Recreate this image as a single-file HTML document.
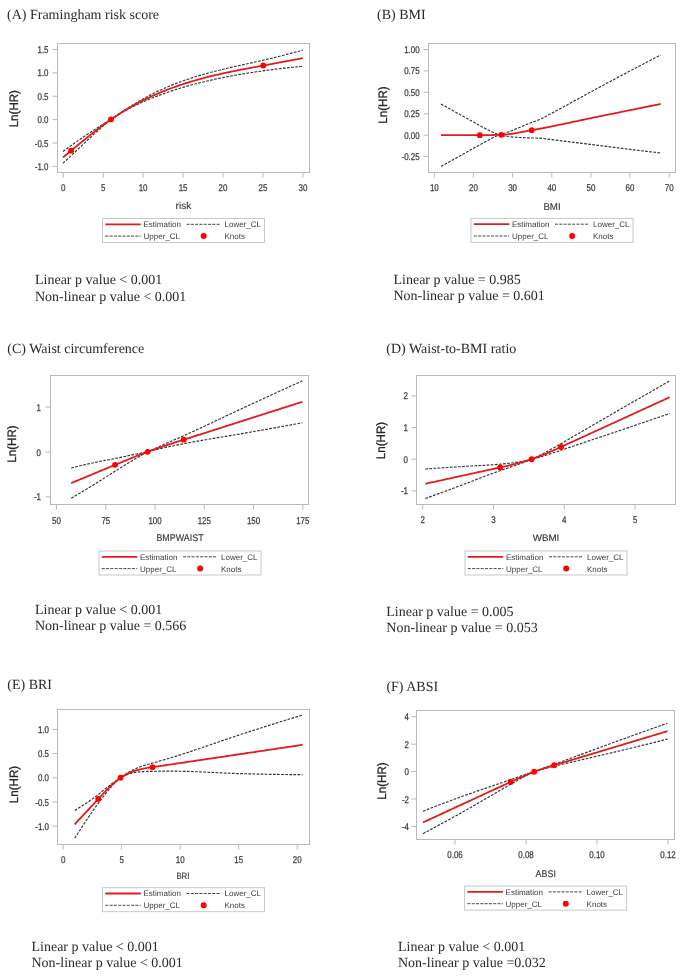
<!DOCTYPE html>
<html><head><meta charset="utf-8"><title>RCS plots</title>
<style>html,body{margin:0;padding:0;background:#fff;}svg{display:block;filter:blur(0.4px);text-rendering:geometricPrecision;}</style>
</head><body>
<svg width="685" height="977" viewBox="0 0 685 977">
<rect width="685" height="977" fill="#fff"/>
<text x="7" y="19.3" font-family="'Liberation Serif', serif" font-size="14" fill="#2a2a2a">(A) Framingham risk score</text>
<line x1="52.5" y1="49.5" x2="57.5" y2="49.5" stroke="#b9b9b9" stroke-width="1"/>
<text transform="translate(48.5,53.0) scale(0.81,1)" font-family="'Liberation Sans', sans-serif" font-size="9.8" fill="#3a3a3a" stroke="#3a3a3a" stroke-width="0.25" text-anchor="end">1.5</text>
<line x1="52.5" y1="72.9" x2="57.5" y2="72.9" stroke="#b9b9b9" stroke-width="1"/>
<text transform="translate(48.5,76.4) scale(0.81,1)" font-family="'Liberation Sans', sans-serif" font-size="9.8" fill="#3a3a3a" stroke="#3a3a3a" stroke-width="0.25" text-anchor="end">1.0</text>
<line x1="52.5" y1="96.2" x2="57.5" y2="96.2" stroke="#b9b9b9" stroke-width="1"/>
<text transform="translate(48.5,99.7) scale(0.81,1)" font-family="'Liberation Sans', sans-serif" font-size="9.8" fill="#3a3a3a" stroke="#3a3a3a" stroke-width="0.25" text-anchor="end">0.5</text>
<line x1="52.5" y1="119.6" x2="57.5" y2="119.6" stroke="#b9b9b9" stroke-width="1"/>
<text transform="translate(48.5,123.1) scale(0.81,1)" font-family="'Liberation Sans', sans-serif" font-size="9.8" fill="#3a3a3a" stroke="#3a3a3a" stroke-width="0.25" text-anchor="end">0.0</text>
<line x1="52.5" y1="143.0" x2="57.5" y2="143.0" stroke="#b9b9b9" stroke-width="1"/>
<text transform="translate(48.5,146.5) scale(0.81,1)" font-family="'Liberation Sans', sans-serif" font-size="9.8" fill="#3a3a3a" stroke="#3a3a3a" stroke-width="0.25" text-anchor="end">-0.5</text>
<line x1="52.5" y1="166.3" x2="57.5" y2="166.3" stroke="#b9b9b9" stroke-width="1"/>
<text transform="translate(48.5,169.8) scale(0.81,1)" font-family="'Liberation Sans', sans-serif" font-size="9.8" fill="#3a3a3a" stroke="#3a3a3a" stroke-width="0.25" text-anchor="end">-1.0</text>
<line x1="63.2" y1="172.5" x2="63.2" y2="177.5" stroke="#b9b9b9" stroke-width="1"/>
<text transform="translate(63.2,190.7) scale(0.81,1)" font-family="'Liberation Sans', sans-serif" font-size="9.8" fill="#3a3a3a" stroke="#3a3a3a" stroke-width="0.25" text-anchor="middle">0</text>
<line x1="103.2" y1="172.5" x2="103.2" y2="177.5" stroke="#b9b9b9" stroke-width="1"/>
<text transform="translate(103.2,190.7) scale(0.81,1)" font-family="'Liberation Sans', sans-serif" font-size="9.8" fill="#3a3a3a" stroke="#3a3a3a" stroke-width="0.25" text-anchor="middle">5</text>
<line x1="143.1" y1="172.5" x2="143.1" y2="177.5" stroke="#b9b9b9" stroke-width="1"/>
<text transform="translate(143.1,190.7) scale(0.81,1)" font-family="'Liberation Sans', sans-serif" font-size="9.8" fill="#3a3a3a" stroke="#3a3a3a" stroke-width="0.25" text-anchor="middle">10</text>
<line x1="183.1" y1="172.5" x2="183.1" y2="177.5" stroke="#b9b9b9" stroke-width="1"/>
<text transform="translate(183.1,190.7) scale(0.81,1)" font-family="'Liberation Sans', sans-serif" font-size="9.8" fill="#3a3a3a" stroke="#3a3a3a" stroke-width="0.25" text-anchor="middle">15</text>
<line x1="223.0" y1="172.5" x2="223.0" y2="177.5" stroke="#b9b9b9" stroke-width="1"/>
<text transform="translate(223.0,190.7) scale(0.81,1)" font-family="'Liberation Sans', sans-serif" font-size="9.8" fill="#3a3a3a" stroke="#3a3a3a" stroke-width="0.25" text-anchor="middle">20</text>
<line x1="262.9" y1="172.5" x2="262.9" y2="177.5" stroke="#b9b9b9" stroke-width="1"/>
<text transform="translate(262.9,190.7) scale(0.81,1)" font-family="'Liberation Sans', sans-serif" font-size="9.8" fill="#3a3a3a" stroke="#3a3a3a" stroke-width="0.25" text-anchor="middle">25</text>
<line x1="302.9" y1="172.5" x2="302.9" y2="177.5" stroke="#b9b9b9" stroke-width="1"/>
<text transform="translate(302.9,190.7) scale(0.81,1)" font-family="'Liberation Sans', sans-serif" font-size="9.8" fill="#3a3a3a" stroke="#3a3a3a" stroke-width="0.25" text-anchor="middle">30</text>
<rect x="57.5" y="43.5" width="252.0" height="129.0" fill="none" stroke="#b9b9b9" stroke-width="1"/>
<text transform="translate(183.4,209.3) scale(1.0,1)" font-family="'Liberation Sans', sans-serif" font-size="10" fill="#3a3a3a" stroke="#3a3a3a" stroke-width="0.15" text-anchor="middle">risk</text>
<text transform="translate(18.45,108.7) rotate(-90) scale(0.95,1)" x="0" y="0" font-family="'Liberation Sans', sans-serif" font-size="12.2" fill="#262626" stroke="#262626" stroke-width="0.3" text-anchor="middle">Ln(HR)</text>
<path d="M63.00,151.46 L65.02,149.99 L67.03,148.53 L69.05,147.08 L71.06,145.63 L73.08,144.20 L75.09,142.77 L77.11,141.35 L79.12,139.94 L81.14,138.55 L83.15,137.18 L85.17,135.83 L87.18,134.48 L89.20,133.14 L91.21,131.81 L93.23,130.49 L95.24,129.19 L97.26,127.90 L99.27,126.61 L101.29,125.34 L103.30,124.09 L105.32,122.85 L107.33,121.63 L109.35,120.43 L111.00,119.46 L111.36,119.19 L113.38,117.72 L115.39,116.28 L117.41,114.87 L119.42,113.48 L121.44,112.12 L123.45,110.79 L125.47,109.49 L127.48,108.21 L129.50,106.96 L131.51,105.73 L133.53,104.52 L135.54,103.32 L137.56,102.13 L139.57,100.96 L141.59,99.80 L143.61,98.66 L145.62,97.54 L147.64,96.45 L149.65,95.38 L151.67,94.34 L153.68,93.32 L155.70,92.32 L157.71,91.35 L159.73,90.39 L161.74,89.46 L163.76,88.55 L165.77,87.67 L167.79,86.81 L169.80,85.97 L171.82,85.14 L173.83,84.34 L175.85,83.55 L177.86,82.78 L179.88,82.03 L181.89,81.29 L183.91,80.57 L185.92,79.86 L187.94,79.17 L189.95,78.50 L191.97,77.84 L193.98,77.20 L196.00,76.56 L198.01,75.95 L200.03,75.34 L202.04,74.75 L204.06,74.17 L206.07,73.61 L208.09,73.05 L210.10,72.51 L212.12,71.98 L214.13,71.46 L216.15,70.95 L218.16,70.45 L220.18,69.95 L222.19,69.47 L224.21,68.99 L226.23,68.52 L228.24,68.05 L230.26,67.59 L232.27,67.13 L234.29,66.67 L236.30,66.22 L238.32,65.77 L240.33,65.32 L242.35,64.87 L244.36,64.42 L246.38,63.98 L248.39,63.53 L250.41,63.08 L252.42,62.64 L254.44,62.19 L256.45,61.73 L258.47,61.28 L260.48,60.82 L262.50,60.36 L264.51,59.90 L266.53,59.43 L268.54,58.95 L270.56,58.47 L272.57,57.98 L274.59,57.49 L276.60,56.99 L278.62,56.49 L280.63,55.98 L282.65,55.47 L284.66,54.95 L286.68,54.43 L288.69,53.90 L290.71,53.37 L292.72,52.83 L294.74,52.29 L296.75,51.75 L298.77,51.20 L300.78,50.64 L302.80,50.09" fill="none" stroke="#333" stroke-width="1.15" stroke-dasharray="2.7,1.4"/>
<path d="M63.00,163.26 L65.02,161.40 L67.03,159.53 L69.05,157.65 L71.06,155.76 L73.08,153.87 L75.09,151.97 L77.11,150.07 L79.12,148.16 L81.14,146.25 L83.15,144.32 L85.17,142.41 L87.18,140.50 L89.20,138.61 L91.21,136.73 L93.23,134.87 L95.24,133.02 L97.26,131.20 L99.27,129.40 L101.29,127.62 L103.30,125.88 L105.32,124.16 L107.33,122.46 L109.35,120.80 L111.00,119.46 L111.36,119.23 L113.38,117.94 L115.39,116.67 L117.41,115.44 L119.42,114.22 L121.44,113.03 L123.45,111.87 L125.47,110.72 L127.48,109.60 L129.50,108.50 L131.51,107.43 L133.53,106.39 L135.54,105.37 L137.56,104.40 L139.57,103.45 L141.59,102.54 L143.61,101.65 L145.62,100.78 L147.64,99.92 L149.65,99.08 L151.67,98.25 L153.68,97.44 L155.70,96.66 L157.71,95.89 L159.73,95.13 L161.74,94.38 L163.76,93.65 L165.77,92.93 L167.79,92.23 L169.80,91.53 L171.82,90.86 L173.83,90.20 L175.85,89.55 L177.86,88.91 L179.88,88.29 L181.89,87.68 L183.91,87.09 L185.92,86.50 L187.94,85.93 L189.95,85.37 L191.97,84.82 L193.98,84.29 L196.00,83.76 L198.01,83.25 L200.03,82.74 L202.04,82.25 L204.06,81.76 L206.07,81.28 L208.09,80.81 L210.10,80.34 L212.12,79.89 L214.13,79.44 L216.15,79.00 L218.16,78.57 L220.18,78.15 L222.19,77.73 L224.21,77.32 L226.23,76.92 L228.24,76.53 L230.26,76.14 L232.27,75.77 L234.29,75.40 L236.30,75.04 L238.32,74.68 L240.33,74.34 L242.35,74.00 L244.36,73.66 L246.38,73.34 L248.39,73.01 L250.41,72.70 L252.42,72.39 L254.44,72.08 L256.45,71.79 L258.47,71.49 L260.48,71.20 L262.50,70.92 L264.51,70.64 L266.53,70.36 L268.54,70.09 L270.56,69.83 L272.57,69.57 L274.59,69.32 L276.60,69.07 L278.62,68.83 L280.63,68.59 L282.65,68.36 L284.66,68.13 L286.68,67.91 L288.69,67.69 L290.71,67.48 L292.72,67.27 L294.74,67.06 L296.75,66.86 L298.77,66.67 L300.78,66.47 L302.80,66.29" fill="none" stroke="#333" stroke-width="1.15" stroke-dasharray="2.7,1.4"/>
<path d="M63.00,157.36 L65.02,155.69 L67.03,154.03 L69.05,152.36 L71.06,150.70 L73.08,149.03 L75.09,147.37 L77.11,145.71 L79.12,144.05 L81.14,142.40 L83.15,140.75 L85.17,139.12 L87.18,137.49 L89.20,135.87 L91.21,134.27 L93.23,132.68 L95.24,131.11 L97.26,129.55 L99.27,128.01 L101.29,126.48 L103.30,124.98 L105.32,123.50 L107.33,122.05 L109.35,120.62 L111.00,119.46 L111.36,119.21 L113.38,117.83 L115.39,116.48 L117.41,115.15 L119.42,113.85 L121.44,112.58 L123.45,111.33 L125.47,110.11 L127.48,108.91 L129.50,107.73 L131.51,106.58 L133.53,105.45 L135.54,104.35 L137.56,103.27 L139.57,102.21 L141.59,101.17 L143.61,100.15 L145.62,99.16 L147.64,98.18 L149.65,97.23 L151.67,96.30 L153.68,95.38 L155.70,94.49 L157.71,93.62 L159.73,92.76 L161.74,91.92 L163.76,91.10 L165.77,90.30 L167.79,89.52 L169.80,88.75 L171.82,88.00 L173.83,87.27 L175.85,86.55 L177.86,85.85 L179.88,85.16 L181.89,84.49 L183.91,83.83 L185.92,83.18 L187.94,82.55 L189.95,81.94 L191.97,81.33 L193.98,80.74 L196.00,80.16 L198.01,79.60 L200.03,79.04 L202.04,78.50 L204.06,77.96 L206.07,77.44 L208.09,76.93 L210.10,76.43 L212.12,75.93 L214.13,75.45 L216.15,74.98 L218.16,74.51 L220.18,74.05 L222.19,73.60 L224.21,73.16 L226.23,72.72 L228.24,72.29 L230.26,71.86 L232.27,71.45 L234.29,71.03 L236.30,70.63 L238.32,70.22 L240.33,69.83 L242.35,69.43 L244.36,69.04 L246.38,68.66 L248.39,68.27 L250.41,67.89 L252.42,67.51 L254.44,67.14 L256.45,66.76 L258.47,66.39 L260.48,66.01 L262.50,65.64 L264.51,65.27 L266.53,64.89 L268.54,64.52 L270.56,64.15 L272.57,63.78 L274.59,63.40 L276.60,63.03 L278.62,62.66 L280.63,62.29 L282.65,61.91 L284.66,61.54 L286.68,61.17 L288.69,60.80 L290.71,60.42 L292.72,60.05 L294.74,59.68 L296.75,59.30 L298.77,58.93 L300.78,58.56 L302.80,58.19" fill="none" stroke="#e31b1b" stroke-width="1.8" stroke-linejoin="round"/>
<circle cx="71.1" cy="150.66490754397316" r="2.9" fill="#ff0000"/>
<circle cx="111.0" cy="119.46076144730385" r="2.9" fill="#ff0000"/>
<circle cx="263.3" cy="65.49106892760948" r="2.9" fill="#ff0000"/>
<rect x="102.5" y="218.5" width="162" height="24" fill="none" stroke="#c8c8c8" stroke-width="1"/>
<line x1="105.3" y1="224.3" x2="140.8" y2="224.3" stroke="#e31b1b" stroke-width="1.8"/>
<line x1="186.5" y1="224.3" x2="220.5" y2="224.3" stroke="#333" stroke-width="0.9" stroke-dasharray="3,1.3"/>
<line x1="105.3" y1="236.1" x2="140.8" y2="236.1" stroke="#333" stroke-width="0.9" stroke-dasharray="3,1.3"/>
<circle cx="203.7" cy="236.1" r="3" fill="#ff0000"/>
<text x="143.5" y="227.2" font-family="'Liberation Sans', sans-serif" font-size="8" fill="#3a3a3a">Estimation</text>
<text x="224.5" y="227.2" font-family="'Liberation Sans', sans-serif" font-size="8" fill="#3a3a3a">Lower_CL</text>
<text x="143.5" y="239.0" font-family="'Liberation Sans', sans-serif" font-size="8" fill="#3a3a3a">Upper_CL</text>
<text x="224.5" y="239.0" font-family="'Liberation Sans', sans-serif" font-size="8" fill="#3a3a3a">Knots</text>
<text x="35" y="284" font-family="'Liberation Serif', serif" font-size="14" fill="#2a2a2a">Linear p value &lt; 0.001</text>
<text x="35" y="300.5" font-family="'Liberation Serif', serif" font-size="14" fill="#2a2a2a">Non-linear p value &lt; 0.001</text>
<text x="377" y="19.2" font-family="'Liberation Serif', serif" font-size="14" fill="#2a2a2a">(B) BMI</text>
<line x1="423.5" y1="49.5" x2="428.5" y2="49.5" stroke="#b9b9b9" stroke-width="1"/>
<text transform="translate(419.6,53.0) scale(0.81,1)" font-family="'Liberation Sans', sans-serif" font-size="9.8" fill="#3a3a3a" stroke="#3a3a3a" stroke-width="0.25" text-anchor="end">1.00</text>
<line x1="423.5" y1="70.9" x2="428.5" y2="70.9" stroke="#b9b9b9" stroke-width="1"/>
<text transform="translate(419.6,74.4) scale(0.81,1)" font-family="'Liberation Sans', sans-serif" font-size="9.8" fill="#3a3a3a" stroke="#3a3a3a" stroke-width="0.25" text-anchor="end">0.75</text>
<line x1="423.5" y1="92.3" x2="428.5" y2="92.3" stroke="#b9b9b9" stroke-width="1"/>
<text transform="translate(419.6,95.8) scale(0.81,1)" font-family="'Liberation Sans', sans-serif" font-size="9.8" fill="#3a3a3a" stroke="#3a3a3a" stroke-width="0.25" text-anchor="end">0.50</text>
<line x1="423.5" y1="113.8" x2="428.5" y2="113.8" stroke="#b9b9b9" stroke-width="1"/>
<text transform="translate(419.6,117.3) scale(0.81,1)" font-family="'Liberation Sans', sans-serif" font-size="9.8" fill="#3a3a3a" stroke="#3a3a3a" stroke-width="0.25" text-anchor="end">0.25</text>
<line x1="423.5" y1="135.2" x2="428.5" y2="135.2" stroke="#b9b9b9" stroke-width="1"/>
<text transform="translate(419.6,138.7) scale(0.81,1)" font-family="'Liberation Sans', sans-serif" font-size="9.8" fill="#3a3a3a" stroke="#3a3a3a" stroke-width="0.25" text-anchor="end">0.00</text>
<line x1="423.5" y1="156.6" x2="428.5" y2="156.6" stroke="#b9b9b9" stroke-width="1"/>
<text transform="translate(419.6,160.1) scale(0.81,1)" font-family="'Liberation Sans', sans-serif" font-size="9.8" fill="#3a3a3a" stroke="#3a3a3a" stroke-width="0.25" text-anchor="end">-0.25</text>
<line x1="434.3" y1="172.5" x2="434.3" y2="177.5" stroke="#b9b9b9" stroke-width="1"/>
<text transform="translate(434.3,190.7) scale(0.81,1)" font-family="'Liberation Sans', sans-serif" font-size="9.8" fill="#3a3a3a" stroke="#3a3a3a" stroke-width="0.25" text-anchor="middle">10</text>
<line x1="473.4" y1="172.5" x2="473.4" y2="177.5" stroke="#b9b9b9" stroke-width="1"/>
<text transform="translate(473.4,190.7) scale(0.81,1)" font-family="'Liberation Sans', sans-serif" font-size="9.8" fill="#3a3a3a" stroke="#3a3a3a" stroke-width="0.25" text-anchor="middle">20</text>
<line x1="512.6" y1="172.5" x2="512.6" y2="177.5" stroke="#b9b9b9" stroke-width="1"/>
<text transform="translate(512.6,190.7) scale(0.81,1)" font-family="'Liberation Sans', sans-serif" font-size="9.8" fill="#3a3a3a" stroke="#3a3a3a" stroke-width="0.25" text-anchor="middle">30</text>
<line x1="551.8" y1="172.5" x2="551.8" y2="177.5" stroke="#b9b9b9" stroke-width="1"/>
<text transform="translate(551.8,190.7) scale(0.81,1)" font-family="'Liberation Sans', sans-serif" font-size="9.8" fill="#3a3a3a" stroke="#3a3a3a" stroke-width="0.25" text-anchor="middle">40</text>
<line x1="590.9" y1="172.5" x2="590.9" y2="177.5" stroke="#b9b9b9" stroke-width="1"/>
<text transform="translate(590.9,190.7) scale(0.81,1)" font-family="'Liberation Sans', sans-serif" font-size="9.8" fill="#3a3a3a" stroke="#3a3a3a" stroke-width="0.25" text-anchor="middle">50</text>
<line x1="630.0" y1="172.5" x2="630.0" y2="177.5" stroke="#b9b9b9" stroke-width="1"/>
<text transform="translate(630.0,190.7) scale(0.81,1)" font-family="'Liberation Sans', sans-serif" font-size="9.8" fill="#3a3a3a" stroke="#3a3a3a" stroke-width="0.25" text-anchor="middle">60</text>
<line x1="669.2" y1="172.5" x2="669.2" y2="177.5" stroke="#b9b9b9" stroke-width="1"/>
<text transform="translate(669.2,190.7) scale(0.81,1)" font-family="'Liberation Sans', sans-serif" font-size="9.8" fill="#3a3a3a" stroke="#3a3a3a" stroke-width="0.25" text-anchor="middle">70</text>
<rect x="428.5" y="43.5" width="247.0" height="129.0" fill="none" stroke="#b9b9b9" stroke-width="1"/>
<text transform="translate(552,209.5) scale(0.97,1)" font-family="'Liberation Sans', sans-serif" font-size="10" fill="#3a3a3a" stroke="#3a3a3a" stroke-width="0.15" text-anchor="middle">BMI</text>
<text transform="translate(387.2,105) rotate(-90) scale(0.95,1)" x="0" y="0" font-family="'Liberation Sans', sans-serif" font-size="12.2" fill="#262626" stroke="#262626" stroke-width="0.3" text-anchor="middle">Ln(HR)</text>
<path d="M441.00,104.00 L443.02,105.13 L445.03,106.26 L447.05,107.39 L449.06,108.51 L451.08,109.63 L453.09,110.75 L455.11,111.87 L457.12,112.99 L459.14,114.11 L461.16,115.22 L463.17,116.34 L465.19,117.45 L467.20,118.56 L469.22,119.67 L471.23,120.78 L473.25,121.90 L475.27,123.03 L477.28,124.16 L479.30,125.29 L481.31,126.40 L483.33,127.50 L485.34,128.56 L487.36,129.60 L489.37,130.59 L491.39,131.55 L493.41,132.47 L495.42,133.36 L497.44,134.22 L499.00,134.87 L499.45,134.74 L501.47,134.17 L503.48,133.57 L505.50,132.92 L507.51,132.22 L509.53,131.49 L511.55,130.72 L513.56,129.92 L515.58,129.10 L517.59,128.26 L519.61,127.41 L521.62,126.55 L523.64,125.69 L525.66,124.85 L527.67,124.02 L529.69,123.21 L531.70,122.45 L533.72,121.72 L535.73,120.98 L537.75,120.20 L539.76,119.37 L541.78,118.45 L543.80,117.46 L545.81,116.40 L547.83,115.33 L549.84,114.26 L551.86,113.20 L553.87,112.13 L555.89,111.06 L557.90,109.97 L559.92,108.88 L561.94,107.78 L563.95,106.68 L565.97,105.57 L567.98,104.46 L570.00,103.34 L572.01,102.23 L574.03,101.11 L576.04,99.99 L578.06,98.88 L580.08,97.76 L582.09,96.65 L584.11,95.54 L586.12,94.43 L588.14,93.33 L590.15,92.24 L592.17,91.15 L594.19,90.06 L596.20,88.98 L598.22,87.90 L600.23,86.82 L602.25,85.74 L604.26,84.66 L606.28,83.58 L608.29,82.51 L610.31,81.43 L612.33,80.35 L614.34,79.28 L616.36,78.21 L618.37,77.13 L620.39,76.06 L622.40,74.99 L624.42,73.92 L626.43,72.86 L628.45,71.79 L630.47,70.73 L632.48,69.67 L634.50,68.61 L636.51,67.55 L638.53,66.49 L640.54,65.44 L642.56,64.39 L644.58,63.33 L646.59,62.28 L648.61,61.23 L650.62,60.18 L652.64,59.14 L654.65,58.09 L656.67,57.05 L658.68,56.00 L660.70,54.96" fill="none" stroke="#333" stroke-width="1.15" stroke-dasharray="2.7,1.4"/>
<path d="M441.00,166.40 L443.02,165.27 L445.03,164.14 L447.05,163.01 L449.06,161.89 L451.08,160.77 L453.09,159.65 L455.11,158.53 L457.12,157.41 L459.14,156.29 L461.16,155.18 L463.17,154.06 L465.19,152.95 L467.20,151.84 L469.22,150.73 L471.23,149.62 L473.25,148.50 L475.27,147.37 L477.28,146.24 L479.30,145.11 L481.31,143.99 L483.33,142.88 L485.34,141.77 L487.36,140.69 L489.37,139.62 L491.39,138.58 L493.41,137.57 L495.42,136.58 L497.44,135.61 L499.00,134.87 L499.45,134.97 L501.47,135.42 L503.48,135.83 L505.50,136.18 L507.51,136.48 L509.53,136.73 L511.55,136.94 L513.56,137.13 L515.58,137.28 L517.59,137.41 L519.61,137.52 L521.62,137.61 L523.64,137.69 L525.66,137.76 L527.67,137.83 L529.69,137.90 L531.70,137.95 L533.72,137.99 L535.73,138.01 L537.75,138.06 L539.76,138.15 L541.78,138.31 L543.80,138.54 L545.81,138.81 L547.83,139.09 L549.84,139.36 L551.86,139.60 L553.87,139.85 L555.89,140.10 L557.90,140.35 L559.92,140.60 L561.94,140.84 L563.95,141.09 L565.97,141.34 L567.98,141.59 L570.00,141.84 L572.01,142.09 L574.03,142.34 L576.04,142.59 L578.06,142.84 L580.08,143.09 L582.09,143.34 L584.11,143.59 L586.12,143.84 L588.14,144.09 L590.15,144.34 L592.17,144.59 L594.19,144.84 L596.20,145.10 L598.22,145.36 L600.23,145.62 L602.25,145.88 L604.26,146.14 L606.28,146.40 L608.29,146.66 L610.31,146.92 L612.33,147.17 L614.34,147.43 L616.36,147.68 L618.37,147.94 L620.39,148.19 L622.40,148.44 L624.42,148.69 L626.43,148.94 L628.45,149.19 L630.47,149.43 L632.48,149.68 L634.50,149.92 L636.51,150.16 L638.53,150.40 L640.54,150.64 L642.56,150.88 L644.58,151.11 L646.59,151.35 L648.61,151.58 L650.62,151.81 L652.64,152.05 L654.65,152.28 L656.67,152.51 L658.68,152.73 L660.70,152.96" fill="none" stroke="#333" stroke-width="1.15" stroke-dasharray="2.7,1.4"/>
<path d="M441.00,135.20 L443.02,135.20 L445.03,135.20 L447.05,135.20 L449.06,135.20 L451.08,135.20 L453.09,135.20 L455.11,135.20 L457.12,135.20 L459.14,135.20 L461.16,135.20 L463.17,135.20 L465.19,135.20 L467.20,135.20 L469.22,135.20 L471.23,135.20 L473.25,135.20 L475.27,135.20 L477.28,135.20 L479.30,135.20 L481.31,135.20 L483.33,135.19 L485.34,135.17 L487.36,135.14 L489.37,135.11 L491.39,135.07 L493.41,135.02 L495.42,134.97 L497.44,134.92 L499.00,134.87 L499.45,134.86 L501.47,134.79 L503.48,134.70 L505.50,134.55 L507.51,134.35 L509.53,134.11 L511.55,133.83 L513.56,133.52 L515.58,133.19 L517.59,132.83 L519.61,132.46 L521.62,132.08 L523.64,131.69 L525.66,131.31 L527.67,130.92 L529.69,130.55 L531.70,130.20 L533.72,129.85 L535.73,129.50 L537.75,129.13 L539.76,128.76 L541.78,128.38 L543.80,128.00 L545.81,127.61 L547.83,127.21 L549.84,126.81 L551.86,126.40 L553.87,125.99 L555.89,125.58 L557.90,125.16 L559.92,124.74 L561.94,124.31 L563.95,123.89 L565.97,123.46 L567.98,123.03 L570.00,122.59 L572.01,122.16 L574.03,121.73 L576.04,121.29 L578.06,120.86 L580.08,120.43 L582.09,120.00 L584.11,119.57 L586.12,119.14 L588.14,118.71 L590.15,118.29 L592.17,117.87 L594.19,117.45 L596.20,117.04 L598.22,116.63 L600.23,116.22 L602.25,115.81 L604.26,115.40 L606.28,114.99 L608.29,114.58 L610.31,114.17 L612.33,113.76 L614.34,113.35 L616.36,112.94 L618.37,112.54 L620.39,112.13 L622.40,111.72 L624.42,111.31 L626.43,110.90 L628.45,110.49 L630.47,110.08 L632.48,109.67 L634.50,109.26 L636.51,108.86 L638.53,108.45 L640.54,108.04 L642.56,107.63 L644.58,107.22 L646.59,106.82 L648.61,106.41 L650.62,106.00 L652.64,105.59 L654.65,105.18 L656.67,104.78 L658.68,104.37 L660.70,103.96" fill="none" stroke="#e31b1b" stroke-width="1.8" stroke-linejoin="round"/>
<circle cx="479.8" cy="135.2" r="2.9" fill="#ff0000"/>
<circle cx="501.3" cy="134.8" r="2.9" fill="#ff0000"/>
<circle cx="531.7" cy="130.2" r="2.9" fill="#ff0000"/>
<rect x="471" y="218.4" width="162" height="24" fill="none" stroke="#c8c8c8" stroke-width="1"/>
<line x1="473.8" y1="224.20000000000002" x2="509.3" y2="224.20000000000002" stroke="#e31b1b" stroke-width="1.8"/>
<line x1="555" y1="224.20000000000002" x2="589" y2="224.20000000000002" stroke="#333" stroke-width="0.9" stroke-dasharray="3,1.3"/>
<line x1="473.8" y1="236.0" x2="509.3" y2="236.0" stroke="#333" stroke-width="0.9" stroke-dasharray="3,1.3"/>
<circle cx="572.2" cy="236.0" r="3" fill="#ff0000"/>
<text x="512" y="227.1" font-family="'Liberation Sans', sans-serif" font-size="8" fill="#3a3a3a">Estimation</text>
<text x="593" y="227.1" font-family="'Liberation Sans', sans-serif" font-size="8" fill="#3a3a3a">Lower_CL</text>
<text x="512" y="238.9" font-family="'Liberation Sans', sans-serif" font-size="8" fill="#3a3a3a">Upper_CL</text>
<text x="593" y="238.9" font-family="'Liberation Sans', sans-serif" font-size="8" fill="#3a3a3a">Knots</text>
<text x="393.5" y="284" font-family="'Liberation Serif', serif" font-size="14" fill="#2a2a2a">Linear p value = 0.985</text>
<text x="393.5" y="300.3" font-family="'Liberation Serif', serif" font-size="14" fill="#2a2a2a">Non-linear p value = 0.601</text>
<text x="7.3" y="352.8" font-family="'Liberation Serif', serif" font-size="14" fill="#2a2a2a">(C) Waist circumference</text>
<line x1="45.5" y1="407.1" x2="50.5" y2="407.1" stroke="#b9b9b9" stroke-width="1"/>
<text transform="translate(41,410.6) scale(0.81,1)" font-family="'Liberation Sans', sans-serif" font-size="9.8" fill="#3a3a3a" stroke="#3a3a3a" stroke-width="0.25" text-anchor="end">1</text>
<line x1="45.5" y1="452.0" x2="50.5" y2="452.0" stroke="#b9b9b9" stroke-width="1"/>
<text transform="translate(41,455.5) scale(0.81,1)" font-family="'Liberation Sans', sans-serif" font-size="9.8" fill="#3a3a3a" stroke="#3a3a3a" stroke-width="0.25" text-anchor="end">0</text>
<line x1="45.5" y1="496.9" x2="50.5" y2="496.9" stroke="#b9b9b9" stroke-width="1"/>
<text transform="translate(41,500.4) scale(0.81,1)" font-family="'Liberation Sans', sans-serif" font-size="9.8" fill="#3a3a3a" stroke="#3a3a3a" stroke-width="0.25" text-anchor="end">-1</text>
<line x1="56.5" y1="504.5" x2="56.5" y2="509.5" stroke="#b9b9b9" stroke-width="1"/>
<text transform="translate(56.5,523.7) scale(0.81,1)" font-family="'Liberation Sans', sans-serif" font-size="9.8" fill="#3a3a3a" stroke="#3a3a3a" stroke-width="0.25" text-anchor="middle">50</text>
<line x1="105.8" y1="504.5" x2="105.8" y2="509.5" stroke="#b9b9b9" stroke-width="1"/>
<text transform="translate(105.8,523.7) scale(0.81,1)" font-family="'Liberation Sans', sans-serif" font-size="9.8" fill="#3a3a3a" stroke="#3a3a3a" stroke-width="0.25" text-anchor="middle">75</text>
<line x1="155.0" y1="504.5" x2="155.0" y2="509.5" stroke="#b9b9b9" stroke-width="1"/>
<text transform="translate(155.0,523.7) scale(0.81,1)" font-family="'Liberation Sans', sans-serif" font-size="9.8" fill="#3a3a3a" stroke="#3a3a3a" stroke-width="0.25" text-anchor="middle">100</text>
<line x1="204.3" y1="504.5" x2="204.3" y2="509.5" stroke="#b9b9b9" stroke-width="1"/>
<text transform="translate(204.3,523.7) scale(0.81,1)" font-family="'Liberation Sans', sans-serif" font-size="9.8" fill="#3a3a3a" stroke="#3a3a3a" stroke-width="0.25" text-anchor="middle">125</text>
<line x1="253.5" y1="504.5" x2="253.5" y2="509.5" stroke="#b9b9b9" stroke-width="1"/>
<text transform="translate(253.5,523.7) scale(0.81,1)" font-family="'Liberation Sans', sans-serif" font-size="9.8" fill="#3a3a3a" stroke="#3a3a3a" stroke-width="0.25" text-anchor="middle">150</text>
<line x1="302.8" y1="504.5" x2="302.8" y2="509.5" stroke="#b9b9b9" stroke-width="1"/>
<text transform="translate(302.8,523.7) scale(0.81,1)" font-family="'Liberation Sans', sans-serif" font-size="9.8" fill="#3a3a3a" stroke="#3a3a3a" stroke-width="0.25" text-anchor="middle">175</text>
<rect x="50.5" y="375.5" width="258.0" height="129.0" fill="none" stroke="#b9b9b9" stroke-width="1"/>
<text transform="translate(180,541.4) scale(0.92,1)" font-family="'Liberation Sans', sans-serif" font-size="9.7" fill="#3a3a3a" stroke="#3a3a3a" stroke-width="0.15" text-anchor="middle">BMPWAIST</text>
<text transform="translate(15.8,444) rotate(-90) scale(0.95,1)" x="0" y="0" font-family="'Liberation Sans', sans-serif" font-size="12.2" fill="#262626" stroke="#262626" stroke-width="0.3" text-anchor="middle">Ln(HR)</text>
<path d="M71.20,468.00 L73.21,467.49 L75.22,466.99 L77.23,466.50 L79.24,466.01 L81.25,465.53 L83.26,465.06 L85.27,464.59 L87.28,464.14 L89.29,463.68 L91.30,463.23 L93.31,462.79 L95.31,462.36 L97.32,461.95 L99.33,461.54 L101.34,461.15 L103.35,460.76 L105.36,460.38 L107.37,460.00 L109.38,459.61 L111.39,459.22 L113.40,458.82 L115.41,458.41 L117.42,458.00 L119.43,457.58 L121.44,457.17 L123.45,456.75 L125.46,456.33 L127.47,455.91 L129.48,455.50 L131.49,455.08 L133.50,454.67 L135.51,454.25 L137.52,453.84 L139.53,453.43 L141.53,453.03 L143.54,452.63 L145.55,452.24 L147.56,451.85 L147.60,451.85 L149.57,450.93 L151.58,450.00 L153.59,449.08 L155.60,448.17 L157.61,447.26 L159.62,446.35 L161.63,445.46 L163.64,444.56 L165.65,443.67 L167.66,442.78 L169.67,441.90 L171.68,441.01 L173.69,440.13 L175.70,439.24 L177.71,438.36 L179.72,437.47 L181.73,436.58 L183.74,435.69 L185.75,434.79 L187.75,433.89 L189.76,432.98 L191.77,432.07 L193.78,431.15 L195.79,430.23 L197.80,429.30 L199.81,428.37 L201.82,427.44 L203.83,426.50 L205.84,425.56 L207.85,424.62 L209.86,423.67 L211.87,422.72 L213.88,421.78 L215.89,420.82 L217.90,419.87 L219.91,418.92 L221.92,417.97 L223.93,417.02 L225.94,416.07 L227.95,415.11 L229.96,414.16 L231.97,413.22 L233.97,412.27 L235.98,411.32 L237.99,410.38 L240.00,409.44 L242.01,408.51 L244.02,407.57 L246.03,406.64 L248.04,405.71 L250.05,404.79 L252.06,403.86 L254.07,402.93 L256.08,402.00 L258.09,401.08 L260.10,400.15 L262.11,399.22 L264.12,398.30 L266.13,397.37 L268.14,396.45 L270.15,395.53 L272.16,394.60 L274.17,393.68 L276.18,392.76 L278.19,391.84 L280.19,390.91 L282.20,389.99 L284.21,389.07 L286.22,388.15 L288.23,387.23 L290.24,386.32 L292.25,385.40 L294.26,384.48 L296.27,383.56 L298.28,382.65 L300.29,381.73 L302.30,380.81" fill="none" stroke="#333" stroke-width="1.15" stroke-dasharray="2.7,1.4"/>
<path d="M71.20,498.20 L73.21,497.03 L75.22,495.86 L77.23,494.69 L79.24,493.50 L81.25,492.31 L83.26,491.11 L85.27,489.91 L87.28,488.70 L89.29,487.48 L91.30,486.26 L93.31,485.03 L95.31,483.79 L97.32,482.54 L99.33,481.27 L101.34,479.99 L103.35,478.71 L105.36,477.43 L107.37,476.14 L109.38,474.85 L111.39,473.57 L113.40,472.30 L115.41,471.04 L117.42,469.79 L119.43,468.53 L121.44,467.29 L123.45,466.04 L125.46,464.81 L127.47,463.58 L129.48,462.35 L131.49,461.14 L133.50,459.94 L135.51,458.75 L137.52,457.57 L139.53,456.40 L141.53,455.25 L143.54,454.11 L145.55,452.98 L147.56,451.87 L147.60,451.85 L149.57,451.31 L151.58,450.79 L153.59,450.27 L155.60,449.77 L157.61,449.28 L159.62,448.80 L161.63,448.33 L163.64,447.87 L165.65,447.42 L167.66,446.98 L169.67,446.55 L171.68,446.13 L173.69,445.71 L175.70,445.30 L177.71,444.89 L179.72,444.49 L181.73,444.09 L183.74,443.70 L185.75,443.31 L187.75,442.93 L189.76,442.55 L191.77,442.18 L193.78,441.81 L195.79,441.45 L197.80,441.09 L199.81,440.74 L201.82,440.39 L203.83,440.05 L205.84,439.70 L207.85,439.36 L209.86,439.02 L211.87,438.69 L213.88,438.35 L215.89,438.02 L217.90,437.68 L219.91,437.35 L221.92,437.02 L223.93,436.69 L225.94,436.36 L227.95,436.02 L229.96,435.69 L231.97,435.35 L233.97,435.02 L235.98,434.68 L237.99,434.33 L240.00,433.99 L242.01,433.64 L244.02,433.29 L246.03,432.94 L248.04,432.58 L250.05,432.23 L252.06,431.87 L254.07,431.52 L256.08,431.16 L258.09,430.80 L260.10,430.44 L262.11,430.08 L264.12,429.73 L266.13,429.37 L268.14,429.01 L270.15,428.65 L272.16,428.29 L274.17,427.92 L276.18,427.56 L278.19,427.20 L280.19,426.84 L282.20,426.47 L284.21,426.11 L286.22,425.75 L288.23,425.38 L290.24,425.02 L292.25,424.65 L294.26,424.28 L296.27,423.92 L298.28,423.55 L300.29,423.18 L302.30,422.81" fill="none" stroke="#333" stroke-width="1.15" stroke-dasharray="2.7,1.4"/>
<path d="M71.20,483.10 L73.21,482.26 L75.22,481.43 L77.23,480.59 L79.24,479.76 L81.25,478.92 L83.26,478.09 L85.27,477.25 L87.28,476.42 L89.29,475.58 L91.30,474.75 L93.31,473.91 L95.31,473.08 L97.32,472.24 L99.33,471.41 L101.34,470.57 L103.35,469.74 L105.36,468.90 L107.37,468.07 L109.38,467.23 L111.39,466.40 L113.40,465.56 L115.41,464.73 L117.42,463.89 L119.43,463.06 L121.44,462.23 L123.45,461.40 L125.46,460.57 L127.47,459.74 L129.48,458.93 L131.49,458.11 L133.50,457.30 L135.51,456.50 L137.52,455.70 L139.53,454.92 L141.53,454.14 L143.54,453.37 L145.55,452.61 L147.56,451.86 L147.60,451.85 L149.57,451.12 L151.58,450.39 L153.59,449.68 L155.60,448.97 L157.61,448.27 L159.62,447.58 L161.63,446.89 L163.64,446.22 L165.65,445.55 L167.66,444.88 L169.67,444.22 L171.68,443.57 L173.69,442.92 L175.70,442.27 L177.71,441.62 L179.72,440.98 L181.73,440.34 L183.74,439.69 L185.75,439.05 L187.75,438.41 L189.76,437.77 L191.77,437.13 L193.78,436.48 L195.79,435.84 L197.80,435.20 L199.81,434.56 L201.82,433.92 L203.83,433.27 L205.84,432.63 L207.85,431.99 L209.86,431.35 L211.87,430.70 L213.88,430.06 L215.89,429.42 L217.90,428.78 L219.91,428.14 L221.92,427.49 L223.93,426.85 L225.94,426.21 L227.95,425.57 L229.96,424.93 L231.97,424.28 L233.97,423.64 L235.98,423.00 L237.99,422.36 L240.00,421.72 L242.01,421.07 L244.02,420.43 L246.03,419.79 L248.04,419.15 L250.05,418.51 L252.06,417.86 L254.07,417.22 L256.08,416.58 L258.09,415.94 L260.10,415.30 L262.11,414.65 L264.12,414.01 L266.13,413.37 L268.14,412.73 L270.15,412.09 L272.16,411.44 L274.17,410.80 L276.18,410.16 L278.19,409.52 L280.19,408.88 L282.20,408.23 L284.21,407.59 L286.22,406.95 L288.23,406.31 L290.24,405.67 L292.25,405.02 L294.26,404.38 L296.27,403.74 L298.28,403.10 L300.29,402.46 L302.30,401.81" fill="none" stroke="#e31b1b" stroke-width="1.8" stroke-linejoin="round"/>
<circle cx="115.1" cy="464.8563975628635" r="2.9" fill="#ff0000"/>
<circle cx="147.6" cy="451.84601330698274" r="2.9" fill="#ff0000"/>
<circle cx="183.7" cy="439.7046829842454" r="2.9" fill="#ff0000"/>
<rect x="99" y="551" width="162" height="24" fill="none" stroke="#c8c8c8" stroke-width="1"/>
<line x1="101.8" y1="556.8" x2="137.3" y2="556.8" stroke="#e31b1b" stroke-width="1.8"/>
<line x1="183" y1="556.8" x2="217" y2="556.8" stroke="#333" stroke-width="0.9" stroke-dasharray="3,1.3"/>
<line x1="101.8" y1="568.6" x2="137.3" y2="568.6" stroke="#333" stroke-width="0.9" stroke-dasharray="3,1.3"/>
<circle cx="200.2" cy="568.6" r="3" fill="#ff0000"/>
<text x="140" y="559.7" font-family="'Liberation Sans', sans-serif" font-size="8" fill="#3a3a3a">Estimation</text>
<text x="221" y="559.7" font-family="'Liberation Sans', sans-serif" font-size="8" fill="#3a3a3a">Lower_CL</text>
<text x="140" y="571.5" font-family="'Liberation Sans', sans-serif" font-size="8" fill="#3a3a3a">Upper_CL</text>
<text x="221" y="571.5" font-family="'Liberation Sans', sans-serif" font-size="8" fill="#3a3a3a">Knots</text>
<text x="35" y="614" font-family="'Liberation Serif', serif" font-size="14" fill="#2a2a2a">Linear p value &lt; 0.001</text>
<text x="35" y="630.3" font-family="'Liberation Serif', serif" font-size="14" fill="#2a2a2a">Non-linear p value = 0.566</text>
<text x="386.3" y="353.1" font-family="'Liberation Serif', serif" font-size="14" fill="#2a2a2a">(D) Waist-to-BMI ratio</text>
<line x1="411.5" y1="395.9" x2="416.5" y2="395.9" stroke="#b9b9b9" stroke-width="1"/>
<text transform="translate(408,399.4) scale(0.81,1)" font-family="'Liberation Sans', sans-serif" font-size="9.8" fill="#3a3a3a" stroke="#3a3a3a" stroke-width="0.25" text-anchor="end">2</text>
<line x1="411.5" y1="427.5" x2="416.5" y2="427.5" stroke="#b9b9b9" stroke-width="1"/>
<text transform="translate(408,431.0) scale(0.81,1)" font-family="'Liberation Sans', sans-serif" font-size="9.8" fill="#3a3a3a" stroke="#3a3a3a" stroke-width="0.25" text-anchor="end">1</text>
<line x1="411.5" y1="459.2" x2="416.5" y2="459.2" stroke="#b9b9b9" stroke-width="1"/>
<text transform="translate(408,462.7) scale(0.81,1)" font-family="'Liberation Sans', sans-serif" font-size="9.8" fill="#3a3a3a" stroke="#3a3a3a" stroke-width="0.25" text-anchor="end">0</text>
<line x1="411.5" y1="490.9" x2="416.5" y2="490.9" stroke="#b9b9b9" stroke-width="1"/>
<text transform="translate(408,494.4) scale(0.81,1)" font-family="'Liberation Sans', sans-serif" font-size="9.8" fill="#3a3a3a" stroke="#3a3a3a" stroke-width="0.25" text-anchor="end">-1</text>
<line x1="422.7" y1="504.5" x2="422.7" y2="509.5" stroke="#b9b9b9" stroke-width="1"/>
<text transform="translate(422.7,523.2) scale(0.81,1)" font-family="'Liberation Sans', sans-serif" font-size="9.8" fill="#3a3a3a" stroke="#3a3a3a" stroke-width="0.25" text-anchor="middle">2</text>
<line x1="493.5" y1="504.5" x2="493.5" y2="509.5" stroke="#b9b9b9" stroke-width="1"/>
<text transform="translate(493.5,523.2) scale(0.81,1)" font-family="'Liberation Sans', sans-serif" font-size="9.8" fill="#3a3a3a" stroke="#3a3a3a" stroke-width="0.25" text-anchor="middle">3</text>
<line x1="564.3" y1="504.5" x2="564.3" y2="509.5" stroke="#b9b9b9" stroke-width="1"/>
<text transform="translate(564.3,523.2) scale(0.81,1)" font-family="'Liberation Sans', sans-serif" font-size="9.8" fill="#3a3a3a" stroke="#3a3a3a" stroke-width="0.25" text-anchor="middle">4</text>
<line x1="635.1" y1="504.5" x2="635.1" y2="509.5" stroke="#b9b9b9" stroke-width="1"/>
<text transform="translate(635.1,523.2) scale(0.81,1)" font-family="'Liberation Sans', sans-serif" font-size="9.8" fill="#3a3a3a" stroke="#3a3a3a" stroke-width="0.25" text-anchor="middle">5</text>
<rect x="416.5" y="375.5" width="259.0" height="129.0" fill="none" stroke="#b9b9b9" stroke-width="1"/>
<text transform="translate(546,541) scale(1.05,1)" font-family="'Liberation Sans', sans-serif" font-size="9.3" fill="#3a3a3a" stroke="#3a3a3a" stroke-width="0.15" text-anchor="middle">WBMI</text>
<text transform="translate(384.7,440.5) rotate(-90) scale(0.95,1)" x="0" y="0" font-family="'Liberation Sans', sans-serif" font-size="12.2" fill="#262626" stroke="#262626" stroke-width="0.3" text-anchor="middle">Ln(HR)</text>
<path d="M425.30,468.98 L427.30,468.85 L429.31,468.71 L431.31,468.57 L433.31,468.44 L435.32,468.30 L437.32,468.16 L439.32,468.03 L441.33,467.89 L443.33,467.76 L445.33,467.63 L447.34,467.49 L449.34,467.36 L451.34,467.23 L453.35,467.10 L455.35,466.97 L457.35,466.83 L459.36,466.70 L461.36,466.57 L463.36,466.45 L465.37,466.32 L467.37,466.20 L469.37,466.09 L471.38,465.98 L473.38,465.87 L475.38,465.77 L477.39,465.67 L479.39,465.56 L481.39,465.46 L483.40,465.35 L485.40,465.24 L487.40,465.12 L489.40,465.00 L491.41,464.86 L493.41,464.72 L495.41,464.57 L497.42,464.41 L499.42,464.23 L501.42,464.04 L503.43,463.85 L505.43,463.64 L507.43,463.43 L509.44,463.20 L511.44,462.96 L513.44,462.71 L515.45,462.43 L517.45,462.14 L519.45,461.82 L521.46,461.47 L523.46,461.10 L525.46,460.70 L527.47,460.26 L529.47,459.79 L531.47,459.29 L531.60,459.25 L533.48,458.40 L535.48,457.45 L537.48,456.48 L539.49,455.48 L541.49,454.45 L543.49,453.41 L545.50,452.34 L547.50,451.26 L549.50,450.16 L551.51,449.05 L553.51,447.92 L555.51,446.79 L557.52,445.65 L559.52,444.50 L561.52,443.35 L563.53,442.20 L565.53,441.05 L567.53,439.90 L569.54,438.74 L571.54,437.58 L573.54,436.42 L575.55,435.26 L577.55,434.10 L579.55,432.93 L581.56,431.77 L583.56,430.61 L585.56,429.44 L587.57,428.27 L589.57,427.11 L591.57,425.94 L593.58,424.78 L595.58,423.61 L597.58,422.45 L599.59,421.28 L601.59,420.12 L603.59,418.95 L605.60,417.79 L607.60,416.63 L609.60,415.47 L611.60,414.31 L613.61,413.16 L615.61,412.00 L617.61,410.84 L619.62,409.69 L621.62,408.53 L623.62,407.38 L625.63,406.22 L627.63,405.07 L629.63,403.91 L631.64,402.76 L633.64,401.60 L635.64,400.45 L637.65,399.30 L639.65,398.15 L641.65,396.99 L643.66,395.84 L645.66,394.69 L647.66,393.54 L649.67,392.39 L651.67,391.24 L653.67,390.09 L655.68,388.94 L657.68,387.79 L659.68,386.64 L661.69,385.49 L663.69,384.34 L665.69,383.19 L667.70,382.04 L669.70,380.89" fill="none" stroke="#333" stroke-width="1.15" stroke-dasharray="2.7,1.4"/>
<path d="M425.30,498.58 L427.30,497.85 L429.31,497.11 L431.31,496.37 L433.31,495.63 L435.32,494.89 L437.32,494.15 L439.32,493.41 L441.33,492.67 L443.33,491.93 L445.33,491.18 L447.34,490.44 L449.34,489.70 L451.34,488.95 L453.35,488.21 L455.35,487.46 L457.35,486.72 L459.36,485.97 L461.36,485.23 L463.36,484.48 L465.37,483.73 L467.37,482.97 L469.37,482.21 L471.38,481.44 L473.38,480.67 L475.38,479.90 L477.39,479.13 L479.39,478.36 L481.39,477.58 L483.40,476.82 L485.40,476.05 L487.40,475.29 L489.40,474.54 L491.41,473.80 L493.41,473.06 L495.41,472.34 L497.42,471.63 L499.42,470.93 L501.42,470.24 L503.43,469.56 L505.43,468.87 L507.43,468.19 L509.44,467.51 L511.44,466.82 L513.44,466.12 L515.45,465.42 L517.45,464.71 L519.45,463.99 L521.46,463.25 L523.46,462.50 L525.46,461.73 L527.47,460.94 L529.47,460.14 L531.47,459.31 L531.60,459.25 L533.48,458.80 L535.48,458.29 L537.48,457.76 L539.49,457.20 L541.49,456.61 L543.49,456.01 L545.50,455.39 L547.50,454.75 L549.50,454.11 L551.51,453.45 L553.51,452.78 L555.51,452.10 L557.52,451.42 L559.52,450.74 L561.52,450.05 L563.53,449.37 L565.53,448.69 L567.53,448.01 L569.54,447.34 L571.54,446.66 L573.54,445.99 L575.55,445.32 L577.55,444.65 L579.55,443.98 L581.56,443.31 L583.56,442.64 L585.56,441.97 L587.57,441.31 L589.57,440.64 L591.57,439.97 L593.58,439.31 L595.58,438.64 L597.58,437.97 L599.59,437.30 L601.59,436.63 L603.59,435.96 L605.60,435.29 L607.60,434.62 L609.60,433.95 L611.60,433.27 L613.61,432.60 L615.61,431.92 L617.61,431.25 L619.62,430.57 L621.62,429.89 L623.62,429.21 L625.63,428.54 L627.63,427.86 L629.63,427.18 L631.64,426.50 L633.64,425.82 L635.64,425.14 L637.65,424.46 L639.65,423.78 L641.65,423.10 L643.66,422.42 L645.66,421.74 L647.66,421.06 L649.67,420.38 L651.67,419.70 L653.67,419.01 L655.68,418.33 L657.68,417.65 L659.68,416.96 L661.69,416.28 L663.69,415.60 L665.69,414.91 L667.70,414.23 L669.70,413.54" fill="none" stroke="#333" stroke-width="1.15" stroke-dasharray="2.7,1.4"/>
<path d="M425.30,483.78 L427.30,483.35 L429.31,482.91 L431.31,482.47 L433.31,482.03 L435.32,481.59 L437.32,481.16 L439.32,480.72 L441.33,480.28 L443.33,479.84 L445.33,479.40 L447.34,478.97 L449.34,478.53 L451.34,478.09 L453.35,477.65 L455.35,477.21 L457.35,476.78 L459.36,476.34 L461.36,475.90 L463.36,475.46 L465.37,475.02 L467.37,474.59 L469.37,474.15 L471.38,473.71 L473.38,473.27 L475.38,472.83 L477.39,472.40 L479.39,471.96 L481.39,471.52 L483.40,471.08 L485.40,470.64 L487.40,470.21 L489.40,469.77 L491.41,469.33 L493.41,468.89 L495.41,468.45 L497.42,468.02 L499.42,467.58 L501.42,467.14 L503.43,466.70 L505.43,466.26 L507.43,465.81 L509.44,465.36 L511.44,464.89 L513.44,464.42 L515.45,463.93 L517.45,463.42 L519.45,462.90 L521.46,462.36 L523.46,461.80 L525.46,461.21 L527.47,460.60 L529.47,459.96 L531.47,459.30 L531.60,459.25 L533.48,458.60 L535.48,457.87 L537.48,457.12 L539.49,456.34 L541.49,455.53 L543.49,454.71 L545.50,453.87 L547.50,453.01 L549.50,452.13 L551.51,451.25 L553.51,450.35 L555.51,449.45 L557.52,448.53 L559.52,447.62 L561.52,446.70 L563.53,445.79 L565.53,444.87 L567.53,443.95 L569.54,443.04 L571.54,442.12 L573.54,441.21 L575.55,440.29 L577.55,439.37 L579.55,438.46 L581.56,437.54 L583.56,436.62 L585.56,435.71 L587.57,434.79 L589.57,433.87 L591.57,432.96 L593.58,432.04 L595.58,431.12 L597.58,430.21 L599.59,429.29 L601.59,428.38 L603.59,427.46 L605.60,426.54 L607.60,425.63 L609.60,424.71 L611.60,423.79 L613.61,422.88 L615.61,421.96 L617.61,421.04 L619.62,420.13 L621.62,419.21 L623.62,418.30 L625.63,417.38 L627.63,416.46 L629.63,415.55 L631.64,414.63 L633.64,413.71 L635.64,412.80 L637.65,411.88 L639.65,410.96 L641.65,410.05 L643.66,409.13 L645.66,408.21 L647.66,407.30 L649.67,406.38 L651.67,405.47 L653.67,404.55 L655.68,403.63 L657.68,402.72 L659.68,401.80 L661.69,400.88 L663.69,399.97 L665.69,399.05 L667.70,398.13 L669.70,397.22" fill="none" stroke="#e31b1b" stroke-width="1.8" stroke-linejoin="round"/>
<circle cx="500.2" cy="467.40845426705266" r="2.9" fill="#ff0000"/>
<circle cx="531.6" cy="459.25441686199673" r="2.9" fill="#ff0000"/>
<circle cx="561.1" cy="446.89715238449725" r="2.9" fill="#ff0000"/>
<rect x="465" y="551" width="162" height="24" fill="none" stroke="#c8c8c8" stroke-width="1"/>
<line x1="467.8" y1="556.8" x2="503.3" y2="556.8" stroke="#e31b1b" stroke-width="1.8"/>
<line x1="549" y1="556.8" x2="583" y2="556.8" stroke="#333" stroke-width="0.9" stroke-dasharray="3,1.3"/>
<line x1="467.8" y1="568.6" x2="503.3" y2="568.6" stroke="#333" stroke-width="0.9" stroke-dasharray="3,1.3"/>
<circle cx="566.2" cy="568.6" r="3" fill="#ff0000"/>
<text x="506" y="559.7" font-family="'Liberation Sans', sans-serif" font-size="8" fill="#3a3a3a">Estimation</text>
<text x="587" y="559.7" font-family="'Liberation Sans', sans-serif" font-size="8" fill="#3a3a3a">Lower_CL</text>
<text x="506" y="571.5" font-family="'Liberation Sans', sans-serif" font-size="8" fill="#3a3a3a">Upper_CL</text>
<text x="587" y="571.5" font-family="'Liberation Sans', sans-serif" font-size="8" fill="#3a3a3a">Knots</text>
<text x="386.3" y="615.7" font-family="'Liberation Serif', serif" font-size="14" fill="#2a2a2a">Linear p value = 0.005</text>
<text x="386.3" y="631.8" font-family="'Liberation Serif', serif" font-size="14" fill="#2a2a2a">Non-linear p value = 0.053</text>
<text x="7.3" y="688.6" font-family="'Liberation Serif', serif" font-size="14" fill="#2a2a2a">(E) BRI</text>
<line x1="52.5" y1="729.4" x2="57.5" y2="729.4" stroke="#b9b9b9" stroke-width="1"/>
<text transform="translate(49,732.9) scale(0.81,1)" font-family="'Liberation Sans', sans-serif" font-size="9.8" fill="#3a3a3a" stroke="#3a3a3a" stroke-width="0.25" text-anchor="end">1.0</text>
<line x1="52.5" y1="753.6" x2="57.5" y2="753.6" stroke="#b9b9b9" stroke-width="1"/>
<text transform="translate(49,757.1) scale(0.81,1)" font-family="'Liberation Sans', sans-serif" font-size="9.8" fill="#3a3a3a" stroke="#3a3a3a" stroke-width="0.25" text-anchor="end">0.5</text>
<line x1="52.5" y1="777.8" x2="57.5" y2="777.8" stroke="#b9b9b9" stroke-width="1"/>
<text transform="translate(49,781.3) scale(0.81,1)" font-family="'Liberation Sans', sans-serif" font-size="9.8" fill="#3a3a3a" stroke="#3a3a3a" stroke-width="0.25" text-anchor="end">0.0</text>
<line x1="52.5" y1="802.0" x2="57.5" y2="802.0" stroke="#b9b9b9" stroke-width="1"/>
<text transform="translate(49,805.5) scale(0.81,1)" font-family="'Liberation Sans', sans-serif" font-size="9.8" fill="#3a3a3a" stroke="#3a3a3a" stroke-width="0.25" text-anchor="end">-0.5</text>
<line x1="52.5" y1="826.2" x2="57.5" y2="826.2" stroke="#b9b9b9" stroke-width="1"/>
<text transform="translate(49,829.7) scale(0.81,1)" font-family="'Liberation Sans', sans-serif" font-size="9.8" fill="#3a3a3a" stroke="#3a3a3a" stroke-width="0.25" text-anchor="end">-1.0</text>
<line x1="63.1" y1="844.5" x2="63.1" y2="849.5" stroke="#b9b9b9" stroke-width="1"/>
<text transform="translate(63.1,862.7) scale(0.81,1)" font-family="'Liberation Sans', sans-serif" font-size="9.8" fill="#3a3a3a" stroke="#3a3a3a" stroke-width="0.25" text-anchor="middle">0</text>
<line x1="121.6" y1="844.5" x2="121.6" y2="849.5" stroke="#b9b9b9" stroke-width="1"/>
<text transform="translate(121.6,862.7) scale(0.81,1)" font-family="'Liberation Sans', sans-serif" font-size="9.8" fill="#3a3a3a" stroke="#3a3a3a" stroke-width="0.25" text-anchor="middle">5</text>
<line x1="180.2" y1="844.5" x2="180.2" y2="849.5" stroke="#b9b9b9" stroke-width="1"/>
<text transform="translate(180.2,862.7) scale(0.81,1)" font-family="'Liberation Sans', sans-serif" font-size="9.8" fill="#3a3a3a" stroke="#3a3a3a" stroke-width="0.25" text-anchor="middle">10</text>
<line x1="238.7" y1="844.5" x2="238.7" y2="849.5" stroke="#b9b9b9" stroke-width="1"/>
<text transform="translate(238.7,862.7) scale(0.81,1)" font-family="'Liberation Sans', sans-serif" font-size="9.8" fill="#3a3a3a" stroke="#3a3a3a" stroke-width="0.25" text-anchor="middle">15</text>
<line x1="297.2" y1="844.5" x2="297.2" y2="849.5" stroke="#b9b9b9" stroke-width="1"/>
<text transform="translate(297.2,862.7) scale(0.81,1)" font-family="'Liberation Sans', sans-serif" font-size="9.8" fill="#3a3a3a" stroke="#3a3a3a" stroke-width="0.25" text-anchor="middle">20</text>
<rect x="57.5" y="709.5" width="252.0" height="135.0" fill="none" stroke="#b9b9b9" stroke-width="1"/>
<text transform="translate(182.9,879.3) scale(0.87,1)" font-family="'Liberation Sans', sans-serif" font-size="9" fill="#3a3a3a" stroke="#3a3a3a" stroke-width="0.15" text-anchor="middle">BRI</text>
<text transform="translate(18,784.5) rotate(-90) scale(0.95,1)" x="0" y="0" font-family="'Liberation Sans', sans-serif" font-size="12.2" fill="#262626" stroke="#262626" stroke-width="0.3" text-anchor="middle">Ln(HR)</text>
<path d="M74.70,810.47 L76.72,809.27 L78.73,808.04 L80.75,806.77 L82.77,805.48 L84.78,804.15 L86.80,802.79 L88.82,801.42 L90.83,800.03 L92.85,798.62 L94.87,797.15 L96.88,795.61 L98.90,793.98 L100.92,792.34 L102.94,790.69 L104.95,789.06 L106.97,787.45 L108.99,785.86 L111.00,784.31 L113.02,782.81 L115.04,781.37 L117.05,779.98 L119.07,778.67 L120.60,777.73 L121.09,777.35 L123.10,775.82 L125.12,774.42 L127.14,773.14 L129.15,771.96 L131.17,770.87 L133.19,769.87 L135.20,768.94 L137.22,768.08 L139.24,767.28 L141.25,766.53 L143.27,765.83 L145.29,765.17 L147.31,764.54 L149.32,763.94 L151.34,763.36 L153.36,762.80 L155.37,762.25 L157.39,761.70 L159.41,761.14 L161.42,760.56 L163.44,759.98 L165.46,759.39 L167.47,758.79 L169.49,758.18 L171.51,757.57 L173.52,756.96 L175.54,756.33 L177.56,755.71 L179.57,755.08 L181.59,754.44 L183.61,753.80 L185.62,753.14 L187.64,752.49 L189.66,751.82 L191.68,751.16 L193.69,750.48 L195.71,749.80 L197.73,749.12 L199.74,748.44 L201.76,747.75 L203.78,747.06 L205.79,746.36 L207.81,745.67 L209.83,744.97 L211.84,744.27 L213.86,743.57 L215.88,742.88 L217.89,742.18 L219.91,741.48 L221.93,740.79 L223.94,740.10 L225.96,739.41 L227.98,738.72 L229.99,738.04 L232.01,737.36 L234.03,736.68 L236.05,736.01 L238.06,735.35 L240.08,734.69 L242.10,734.03 L244.11,733.38 L246.13,732.72 L248.15,732.07 L250.16,731.42 L252.18,730.77 L254.20,730.12 L256.21,729.48 L258.23,728.83 L260.25,728.19 L262.26,727.55 L264.28,726.90 L266.30,726.26 L268.31,725.63 L270.33,724.99 L272.35,724.35 L274.36,723.72 L276.38,723.09 L278.40,722.45 L280.42,721.82 L282.43,721.20 L284.45,720.57 L286.47,719.94 L288.48,719.32 L290.50,718.70 L292.52,718.08 L294.53,717.46 L296.55,716.84 L298.57,716.22 L300.58,715.61 L302.60,715.00" fill="none" stroke="#333" stroke-width="1.15" stroke-dasharray="2.7,1.4"/>
<path d="M74.70,838.17 L76.72,835.03 L78.73,831.92 L80.75,828.83 L82.77,825.78 L84.78,822.77 L86.80,819.79 L88.82,816.81 L90.83,813.85 L92.85,810.92 L94.87,808.04 L96.88,805.24 L98.90,802.52 L100.92,799.83 L102.94,797.17 L104.95,794.56 L106.97,792.01 L108.99,789.55 L111.00,787.18 L113.02,784.92 L115.04,782.80 L117.05,780.81 L119.07,779.00 L120.60,777.73 L121.09,777.45 L123.10,776.37 L125.12,775.43 L127.14,774.61 L129.15,773.91 L131.17,773.32 L133.19,772.82 L135.20,772.43 L137.22,772.11 L139.24,771.87 L141.25,771.69 L143.27,771.57 L145.29,771.48 L147.31,771.42 L149.32,771.39 L151.34,771.35 L153.36,771.32 L155.37,771.27 L157.39,771.22 L159.41,771.18 L161.42,771.15 L163.44,771.14 L165.46,771.13 L167.47,771.13 L169.49,771.13 L171.51,771.14 L173.52,771.16 L175.54,771.18 L177.56,771.20 L179.57,771.24 L181.59,771.27 L183.61,771.31 L185.62,771.37 L187.64,771.42 L189.66,771.48 L191.68,771.55 L193.69,771.63 L195.71,771.70 L197.73,771.79 L199.74,771.87 L201.76,771.96 L203.78,772.05 L205.79,772.14 L207.81,772.24 L209.83,772.34 L211.84,772.43 L213.86,772.53 L215.88,772.63 L217.89,772.73 L219.91,772.82 L221.93,772.92 L223.94,773.01 L225.96,773.10 L227.98,773.18 L229.99,773.27 L232.01,773.35 L234.03,773.42 L236.05,773.49 L238.06,773.56 L240.08,773.61 L242.10,773.67 L244.11,773.72 L246.13,773.78 L248.15,773.83 L250.16,773.88 L252.18,773.93 L254.20,773.98 L256.21,774.02 L258.23,774.07 L260.25,774.11 L262.26,774.15 L264.28,774.19 L266.30,774.23 L268.31,774.27 L270.33,774.31 L272.35,774.34 L274.36,774.38 L276.38,774.41 L278.40,774.44 L280.42,774.47 L282.43,774.50 L284.45,774.52 L286.47,774.55 L288.48,774.57 L290.50,774.59 L292.52,774.62 L294.53,774.63 L296.55,774.65 L298.57,774.67 L300.58,774.68 L302.60,774.70" fill="none" stroke="#333" stroke-width="1.15" stroke-dasharray="2.7,1.4"/>
<path d="M74.70,824.32 L76.72,822.15 L78.73,819.98 L80.75,817.80 L82.77,815.63 L84.78,813.46 L86.80,811.29 L88.82,809.11 L90.83,806.94 L92.85,804.77 L94.87,802.59 L96.88,800.42 L98.90,798.25 L100.92,796.08 L102.94,793.93 L104.95,791.81 L106.97,789.73 L108.99,787.70 L111.00,785.75 L113.02,783.87 L115.04,782.08 L117.05,780.40 L119.07,778.83 L120.60,777.73 L121.09,777.40 L123.10,776.10 L125.12,774.93 L127.14,773.88 L129.15,772.93 L131.17,772.09 L133.19,771.35 L135.20,770.68 L137.22,770.10 L139.24,769.58 L141.25,769.11 L143.27,768.70 L145.29,768.33 L147.31,767.98 L149.32,767.66 L151.34,767.36 L153.36,767.06 L155.37,766.76 L157.39,766.46 L159.41,766.16 L161.42,765.86 L163.44,765.56 L165.46,765.26 L167.47,764.96 L169.49,764.66 L171.51,764.36 L173.52,764.06 L175.54,763.76 L177.56,763.46 L179.57,763.16 L181.59,762.86 L183.61,762.56 L185.62,762.26 L187.64,761.95 L189.66,761.65 L191.68,761.35 L193.69,761.05 L195.71,760.75 L197.73,760.45 L199.74,760.15 L201.76,759.85 L203.78,759.55 L205.79,759.25 L207.81,758.95 L209.83,758.65 L211.84,758.35 L213.86,758.05 L215.88,757.75 L217.89,757.45 L219.91,757.15 L221.93,756.85 L223.94,756.55 L225.96,756.25 L227.98,755.95 L229.99,755.65 L232.01,755.35 L234.03,755.05 L236.05,754.75 L238.06,754.45 L240.08,754.15 L242.10,753.85 L244.11,753.55 L246.13,753.25 L248.15,752.95 L250.16,752.65 L252.18,752.35 L254.20,752.05 L256.21,751.75 L258.23,751.45 L260.25,751.15 L262.26,750.85 L264.28,750.55 L266.30,750.25 L268.31,749.95 L270.33,749.65 L272.35,749.35 L274.36,749.05 L276.38,748.75 L278.40,748.45 L280.42,748.15 L282.43,747.85 L284.45,747.55 L286.47,747.25 L288.48,746.95 L290.50,746.65 L292.52,746.35 L294.53,746.05 L296.55,745.75 L298.57,745.45 L300.58,745.15 L302.60,744.85" fill="none" stroke="#e31b1b" stroke-width="1.8" stroke-linejoin="round"/>
<circle cx="98.2" cy="799.005331152754" r="2.9" fill="#ff0000"/>
<circle cx="120.6" cy="777.73302852024" r="2.9" fill="#ff0000"/>
<circle cx="152.5" cy="767.1850827620037" r="2.9" fill="#ff0000"/>
<rect x="102.5" y="887.7" width="162" height="24" fill="none" stroke="#c8c8c8" stroke-width="1"/>
<line x1="105.3" y1="893.5" x2="140.8" y2="893.5" stroke="#e31b1b" stroke-width="1.8"/>
<line x1="186.5" y1="893.5" x2="220.5" y2="893.5" stroke="#333" stroke-width="0.9" stroke-dasharray="3,1.3"/>
<line x1="105.3" y1="905.3000000000001" x2="140.8" y2="905.3000000000001" stroke="#333" stroke-width="0.9" stroke-dasharray="3,1.3"/>
<circle cx="203.7" cy="905.3000000000001" r="3" fill="#ff0000"/>
<text x="143.5" y="896.4" font-family="'Liberation Sans', sans-serif" font-size="8" fill="#3a3a3a">Estimation</text>
<text x="224.5" y="896.4" font-family="'Liberation Sans', sans-serif" font-size="8" fill="#3a3a3a">Lower_CL</text>
<text x="143.5" y="908.2" font-family="'Liberation Sans', sans-serif" font-size="8" fill="#3a3a3a">Upper_CL</text>
<text x="224.5" y="908.2" font-family="'Liberation Sans', sans-serif" font-size="8" fill="#3a3a3a">Knots</text>
<text x="31.5" y="951" font-family="'Liberation Serif', serif" font-size="14" fill="#2a2a2a">Linear p value &lt; 0.001</text>
<text x="31.5" y="967.3" font-family="'Liberation Serif', serif" font-size="14" fill="#2a2a2a">Non-linear p value &lt; 0.001</text>
<text x="386.4" y="690.5" font-family="'Liberation Serif', serif" font-size="14" fill="#2a2a2a">(F) ABSI</text>
<line x1="411.5" y1="716.7" x2="416.5" y2="716.7" stroke="#b9b9b9" stroke-width="1"/>
<text transform="translate(409,720.2) scale(0.81,1)" font-family="'Liberation Sans', sans-serif" font-size="9.8" fill="#3a3a3a" stroke="#3a3a3a" stroke-width="0.25" text-anchor="end">4</text>
<line x1="411.5" y1="744.2" x2="416.5" y2="744.2" stroke="#b9b9b9" stroke-width="1"/>
<text transform="translate(409,747.7) scale(0.81,1)" font-family="'Liberation Sans', sans-serif" font-size="9.8" fill="#3a3a3a" stroke="#3a3a3a" stroke-width="0.25" text-anchor="end">2</text>
<line x1="411.5" y1="771.6" x2="416.5" y2="771.6" stroke="#b9b9b9" stroke-width="1"/>
<text transform="translate(409,775.1) scale(0.81,1)" font-family="'Liberation Sans', sans-serif" font-size="9.8" fill="#3a3a3a" stroke="#3a3a3a" stroke-width="0.25" text-anchor="end">0</text>
<line x1="411.5" y1="799.0" x2="416.5" y2="799.0" stroke="#b9b9b9" stroke-width="1"/>
<text transform="translate(409,802.5) scale(0.81,1)" font-family="'Liberation Sans', sans-serif" font-size="9.8" fill="#3a3a3a" stroke="#3a3a3a" stroke-width="0.25" text-anchor="end">-2</text>
<line x1="411.5" y1="826.5" x2="416.5" y2="826.5" stroke="#b9b9b9" stroke-width="1"/>
<text transform="translate(409,830.0) scale(0.81,1)" font-family="'Liberation Sans', sans-serif" font-size="9.8" fill="#3a3a3a" stroke="#3a3a3a" stroke-width="0.25" text-anchor="end">-4</text>
<line x1="455.0" y1="839.5" x2="455.0" y2="844.5" stroke="#b9b9b9" stroke-width="1"/>
<text transform="translate(455.0,858.4) scale(0.81,1)" font-family="'Liberation Sans', sans-serif" font-size="9.8" fill="#3a3a3a" stroke="#3a3a3a" stroke-width="0.25" text-anchor="middle">0.06</text>
<line x1="526.0" y1="839.5" x2="526.0" y2="844.5" stroke="#b9b9b9" stroke-width="1"/>
<text transform="translate(526.0,858.4) scale(0.81,1)" font-family="'Liberation Sans', sans-serif" font-size="9.8" fill="#3a3a3a" stroke="#3a3a3a" stroke-width="0.25" text-anchor="middle">0.08</text>
<line x1="597.0" y1="839.5" x2="597.0" y2="844.5" stroke="#b9b9b9" stroke-width="1"/>
<text transform="translate(597.0,858.4) scale(0.81,1)" font-family="'Liberation Sans', sans-serif" font-size="9.8" fill="#3a3a3a" stroke="#3a3a3a" stroke-width="0.25" text-anchor="middle">0.10</text>
<line x1="668.0" y1="839.5" x2="668.0" y2="844.5" stroke="#b9b9b9" stroke-width="1"/>
<text transform="translate(668.0,858.4) scale(0.81,1)" font-family="'Liberation Sans', sans-serif" font-size="9.8" fill="#3a3a3a" stroke="#3a3a3a" stroke-width="0.25" text-anchor="middle">0.12</text>
<rect x="416.5" y="710.5" width="258.0" height="129.0" fill="none" stroke="#b9b9b9" stroke-width="1"/>
<text transform="translate(545.7,876.6) scale(0.92,1)" font-family="'Liberation Sans', sans-serif" font-size="9.7" fill="#3a3a3a" stroke="#3a3a3a" stroke-width="0.15" text-anchor="middle">ABSI</text>
<text transform="translate(386.2,781) rotate(-90) scale(0.95,1)" x="0" y="0" font-family="'Liberation Sans', sans-serif" font-size="12.2" fill="#262626" stroke="#262626" stroke-width="0.3" text-anchor="middle">Ln(HR)</text>
<path d="M423.00,811.21 L425.00,810.43 L427.01,809.64 L429.01,808.86 L431.02,808.08 L433.02,807.31 L435.02,806.54 L437.03,805.77 L439.03,805.00 L441.04,804.24 L443.04,803.48 L445.05,802.73 L447.05,801.97 L449.05,801.22 L451.06,800.47 L453.06,799.73 L455.07,798.99 L457.07,798.25 L459.07,797.51 L461.08,796.77 L463.08,796.04 L465.09,795.31 L467.09,794.59 L469.09,793.88 L471.10,793.17 L473.10,792.47 L475.11,791.78 L477.11,791.09 L479.11,790.40 L481.12,789.72 L483.12,789.04 L485.13,788.36 L487.13,787.69 L489.14,787.01 L491.14,786.34 L493.14,785.66 L495.15,784.99 L497.15,784.31 L499.16,783.63 L501.16,782.94 L503.16,782.25 L505.17,781.56 L507.17,780.86 L509.18,780.16 L511.18,779.44 L513.18,778.73 L515.19,778.01 L517.19,777.30 L519.20,776.59 L521.20,775.89 L523.20,775.21 L525.21,774.53 L527.21,773.87 L529.22,773.23 L531.22,772.62 L533.23,772.02 L534.20,771.74 L535.23,771.31 L537.23,770.50 L539.24,769.70 L541.24,768.93 L543.25,768.18 L545.25,767.44 L547.25,766.71 L549.26,765.99 L551.26,765.28 L553.27,764.57 L555.27,763.85 L557.27,763.14 L559.28,762.42 L561.28,761.69 L563.29,760.97 L565.29,760.24 L567.30,759.51 L569.30,758.78 L571.30,758.04 L573.31,757.30 L575.31,756.57 L577.32,755.83 L579.32,755.09 L581.32,754.34 L583.33,753.60 L585.33,752.86 L587.34,752.12 L589.34,751.37 L591.34,750.63 L593.35,749.89 L595.35,749.14 L597.36,748.40 L599.36,747.66 L601.36,746.92 L603.37,746.18 L605.37,745.44 L607.38,744.71 L609.38,743.97 L611.39,743.24 L613.39,742.51 L615.39,741.78 L617.40,741.06 L619.40,740.34 L621.41,739.61 L623.41,738.89 L625.41,738.17 L627.42,737.45 L629.42,736.74 L631.43,736.02 L633.43,735.30 L635.43,734.58 L637.44,733.87 L639.44,733.15 L641.45,732.44 L643.45,731.73 L645.45,731.02 L647.46,730.30 L649.46,729.59 L651.47,728.88 L653.47,728.18 L655.48,727.47 L657.48,726.76 L659.48,726.05 L661.49,725.35 L663.49,724.64 L665.50,723.94 L667.50,723.23" fill="none" stroke="#333" stroke-width="1.15" stroke-dasharray="2.7,1.4"/>
<path d="M423.00,833.64 L425.00,832.58 L427.01,831.51 L429.01,830.44 L431.02,829.37 L433.02,828.29 L435.02,827.21 L437.03,826.12 L439.03,825.04 L441.04,823.95 L443.04,822.86 L445.05,821.76 L447.05,820.66 L449.05,819.56 L451.06,818.46 L453.06,817.35 L455.07,816.24 L457.07,815.13 L459.07,814.02 L461.08,812.90 L463.08,811.78 L465.09,810.66 L467.09,809.53 L469.09,808.39 L471.10,807.24 L473.10,806.09 L475.11,804.94 L477.11,803.77 L479.11,802.61 L481.12,801.44 L483.12,800.27 L485.13,799.09 L487.13,797.92 L489.14,796.74 L491.14,795.56 L493.14,794.39 L495.15,793.21 L497.15,792.04 L499.16,790.87 L501.16,789.70 L503.16,788.54 L505.17,787.38 L507.17,786.23 L509.18,785.08 L511.18,783.94 L513.18,782.81 L515.19,781.68 L517.19,780.56 L519.20,779.45 L521.20,778.35 L523.20,777.28 L525.21,776.21 L527.21,775.17 L529.22,774.16 L531.22,773.16 L533.23,772.20 L534.20,771.74 L535.23,771.41 L537.23,770.78 L539.24,770.18 L541.24,769.60 L543.25,769.04 L545.25,768.50 L547.25,767.97 L549.26,767.46 L551.26,766.96 L553.27,766.46 L555.27,765.97 L557.27,765.49 L559.28,765.00 L561.28,764.52 L563.29,764.04 L565.29,763.57 L567.30,763.09 L569.30,762.62 L571.30,762.15 L573.31,761.68 L575.31,761.22 L577.32,760.75 L579.32,760.29 L581.32,759.82 L583.33,759.36 L585.33,758.90 L587.34,758.44 L589.34,757.98 L591.34,757.51 L593.35,757.05 L595.35,756.59 L597.36,756.13 L599.36,755.66 L601.36,755.20 L603.37,754.73 L605.37,754.27 L607.38,753.80 L609.38,753.33 L611.39,752.86 L613.39,752.38 L615.39,751.90 L617.40,751.43 L619.40,750.94 L621.41,750.46 L623.41,749.98 L625.41,749.49 L627.42,749.01 L629.42,748.52 L631.43,748.03 L633.43,747.55 L635.43,747.06 L637.44,746.57 L639.44,746.08 L641.45,745.59 L643.45,745.09 L645.45,744.60 L647.46,744.11 L649.46,743.61 L651.47,743.12 L653.47,742.62 L655.48,742.13 L657.48,741.63 L659.48,741.13 L661.49,740.63 L663.49,740.13 L665.50,739.63 L667.50,739.13" fill="none" stroke="#333" stroke-width="1.15" stroke-dasharray="2.7,1.4"/>
<path d="M423.00,822.43 L425.00,821.50 L427.01,820.58 L429.01,819.65 L431.02,818.72 L433.02,817.80 L435.02,816.87 L437.03,815.95 L439.03,815.02 L441.04,814.09 L443.04,813.17 L445.05,812.24 L447.05,811.32 L449.05,810.39 L451.06,809.47 L453.06,808.54 L455.07,807.61 L457.07,806.69 L459.07,805.76 L461.08,804.84 L463.08,803.91 L465.09,802.99 L467.09,802.06 L469.09,801.13 L471.10,800.21 L473.10,799.28 L475.11,798.36 L477.11,797.43 L479.11,796.51 L481.12,795.58 L483.12,794.65 L485.13,793.73 L487.13,792.80 L489.14,791.88 L491.14,790.95 L493.14,790.02 L495.15,789.10 L497.15,788.17 L499.16,787.25 L501.16,786.32 L503.16,785.40 L505.17,784.47 L507.17,783.54 L509.18,782.62 L511.18,781.69 L513.18,780.77 L515.19,779.85 L517.19,778.93 L519.20,778.02 L521.20,777.12 L523.20,776.24 L525.21,775.37 L527.21,774.52 L529.22,773.69 L531.22,772.89 L533.23,772.11 L534.20,771.74 L535.23,771.36 L537.23,770.64 L539.24,769.94 L541.24,769.26 L543.25,768.61 L545.25,767.97 L547.25,767.34 L549.26,766.73 L551.26,766.12 L553.27,765.52 L555.27,764.91 L557.27,764.31 L559.28,763.71 L561.28,763.11 L563.29,762.50 L565.29,761.90 L567.30,761.30 L569.30,760.70 L571.30,760.10 L573.31,759.49 L575.31,758.89 L577.32,758.29 L579.32,757.69 L581.32,757.08 L583.33,756.48 L585.33,755.88 L587.34,755.28 L589.34,754.67 L591.34,754.07 L593.35,753.47 L595.35,752.87 L597.36,752.27 L599.36,751.66 L601.36,751.06 L603.37,750.46 L605.37,749.86 L607.38,749.25 L609.38,748.65 L611.39,748.05 L613.39,747.45 L615.39,746.84 L617.40,746.24 L619.40,745.64 L621.41,745.04 L623.41,744.43 L625.41,743.83 L627.42,743.23 L629.42,742.63 L631.43,742.03 L633.43,741.42 L635.43,740.82 L637.44,740.22 L639.44,739.62 L641.45,739.01 L643.45,738.41 L645.45,737.81 L647.46,737.21 L649.46,736.60 L651.47,736.00 L653.47,735.40 L655.48,734.80 L657.48,734.19 L659.48,733.59 L661.49,732.99 L663.49,732.39 L665.50,731.79 L667.50,731.18" fill="none" stroke="#e31b1b" stroke-width="1.8" stroke-linejoin="round"/>
<circle cx="510.7" cy="781.9143166922529" r="2.9" fill="#ff0000"/>
<circle cx="534.2" cy="771.7415523085598" r="2.9" fill="#ff0000"/>
<circle cx="554.2" cy="765.2358145610447" r="2.9" fill="#ff0000"/>
<rect x="464.6" y="886.1" width="162" height="24" fill="none" stroke="#c8c8c8" stroke-width="1"/>
<line x1="467.40000000000003" y1="891.9" x2="502.90000000000003" y2="891.9" stroke="#e31b1b" stroke-width="1.8"/>
<line x1="548.6" y1="891.9" x2="582.6" y2="891.9" stroke="#333" stroke-width="0.9" stroke-dasharray="3,1.3"/>
<line x1="467.40000000000003" y1="903.7" x2="502.90000000000003" y2="903.7" stroke="#333" stroke-width="0.9" stroke-dasharray="3,1.3"/>
<circle cx="565.8000000000001" cy="903.7" r="3" fill="#ff0000"/>
<text x="505.6" y="894.8" font-family="'Liberation Sans', sans-serif" font-size="8" fill="#3a3a3a">Estimation</text>
<text x="586.6" y="894.8" font-family="'Liberation Sans', sans-serif" font-size="8" fill="#3a3a3a">Lower_CL</text>
<text x="505.6" y="906.6" font-family="'Liberation Sans', sans-serif" font-size="8" fill="#3a3a3a">Upper_CL</text>
<text x="586.6" y="906.6" font-family="'Liberation Sans', sans-serif" font-size="8" fill="#3a3a3a">Knots</text>
<text x="398" y="951" font-family="'Liberation Serif', serif" font-size="14" fill="#2a2a2a">Linear p value &lt; 0.001</text>
<text x="398" y="967.3" font-family="'Liberation Serif', serif" font-size="14" fill="#2a2a2a">Non-linear p value =0.032</text>
</svg>
</body></html>
